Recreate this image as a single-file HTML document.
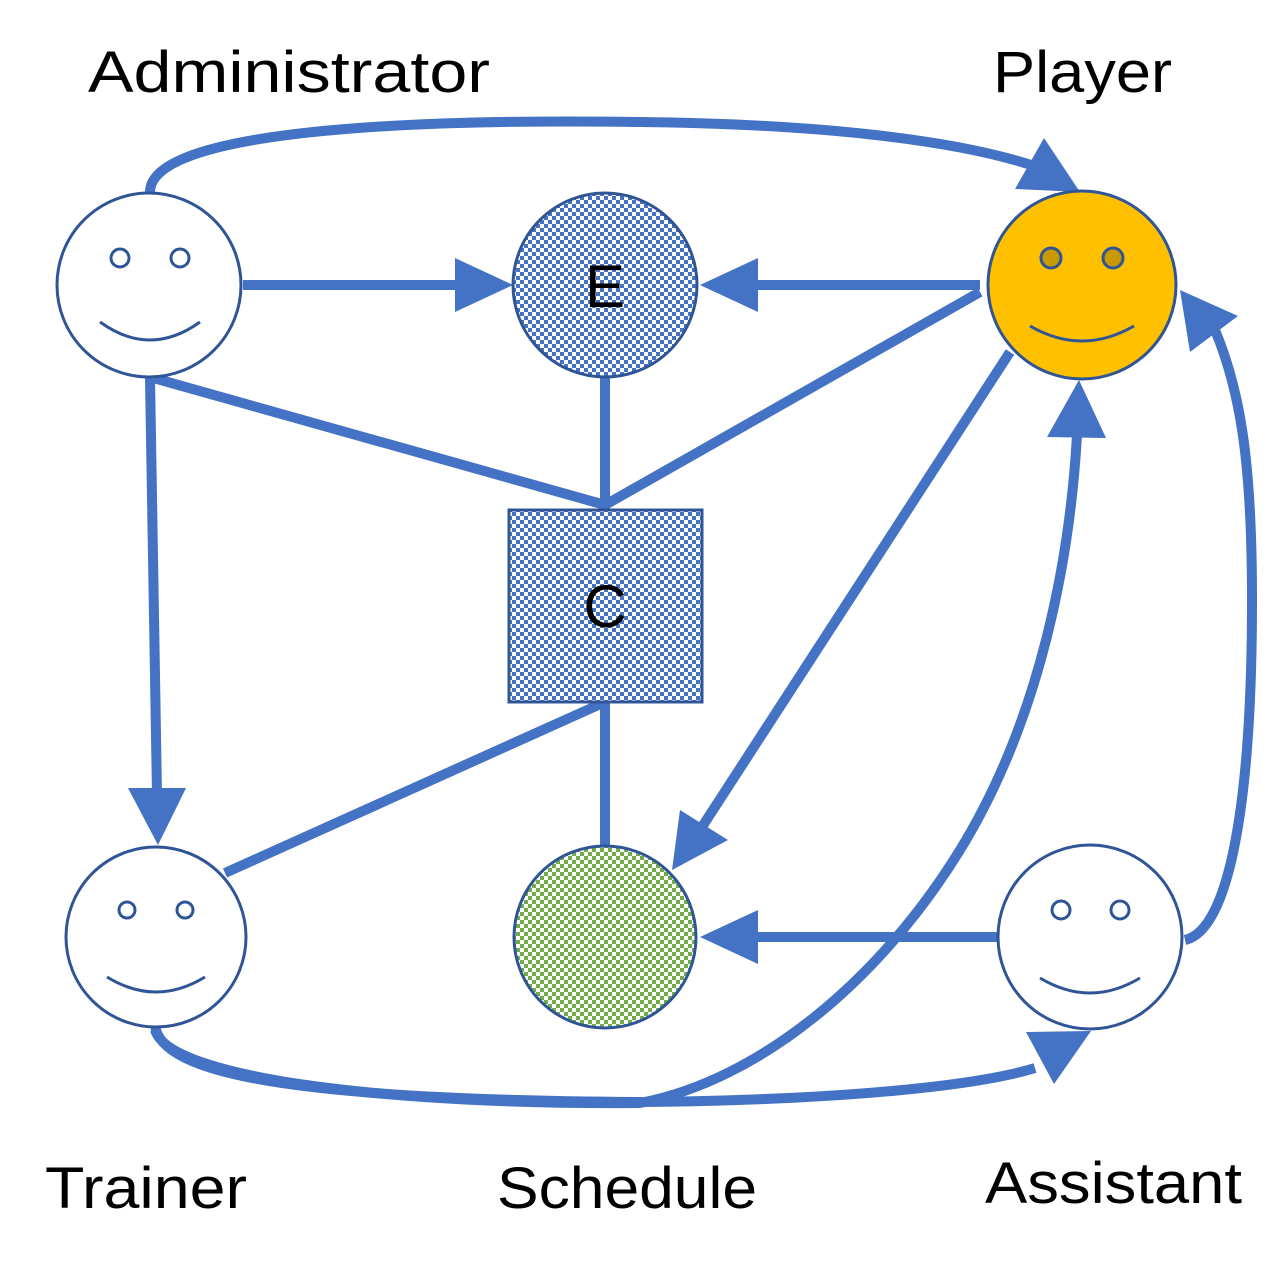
<!DOCTYPE html>
<html><head><style>html,body{margin:0;padding:0;background:#fff}svg{display:block}</style></head>
<body>
<svg width="1288" height="1276" viewBox="0 0 1288 1276" xmlns="http://www.w3.org/2000/svg">
<defs>
<pattern id="pb" width="8" height="8" patternUnits="userSpaceOnUse">
<rect width="8" height="8" fill="#fff"/><rect width="4" height="4" fill="#4472C4"/><rect x="4" y="4" width="4" height="4" fill="#4472C4"/></pattern>
<pattern id="pg" width="8" height="8" patternUnits="userSpaceOnUse">
<rect width="8" height="8" fill="#fff"/><rect width="4" height="4" fill="#70AD47"/><rect x="4" y="4" width="4" height="4" fill="#70AD47"/></pattern>
</defs>
<g stroke="#4472C4" stroke-width="10" fill="none" stroke-linecap="butt">
<path d="M150 192 C150 120 500 120 640 122 C820 124 960 140 1040 168"/>
<line x1="243" y1="285" x2="460" y2="285"/>
<line x1="980" y1="285" x2="750" y2="285"/>
<line x1="150" y1="377" x2="605" y2="505"/>
<line x1="605" y1="377" x2="605" y2="510"/>
<line x1="980" y1="292" x2="605" y2="505"/>
<line x1="150" y1="378" x2="157" y2="795"/>
<line x1="605" y1="702" x2="225" y2="873"/>
<line x1="605" y1="702" x2="605" y2="845"/>
<line x1="1010" y1="352" x2="700" y2="830"/>
<line x1="997" y1="937" x2="750" y2="937"/>
<path d="M1185 940 C1230 930 1252 800 1252 600 C1252 460 1240 390 1215 330"/>
<path d="M155 1025 C160 1075 300 1100 640 1102 C850 1100 980 1085 1035 1068"/>
<path d="M155 1030 C170 1080 400 1105 640 1103 C760 1080 880 980 960 850 C1040 720 1070 560 1077 435"/>
</g>
<g fill="#4472C4">
<polygon points="1080,192 1015,189 1044,138"/>
<polygon points="513,285 455,258 455,312"/>
<polygon points="700,285 758,258 758,312"/>
<polygon points="158,845 128,788 186,788"/>
<polygon points="672,870 680,810 728,840"/>
<polygon points="700,937 758,910 758,964"/>
<polygon points="1180,290 1190,352 1238,316"/>
<polygon points="1079,380 1047,437 1106,438"/>
<polygon points="1091,1031 1026,1032 1054,1084"/>
</g>
<g stroke="#2F5597" stroke-width="3">
<circle cx="149" cy="285" r="92" fill="#fff"/>
<circle cx="605" cy="285" r="92" fill="url(#pb)"/>
<circle cx="1082" cy="285" r="94" fill="#FFC000"/>
<rect x="509" y="510" width="193" height="192" fill="url(#pb)"/>
<circle cx="156" cy="937" r="90" fill="#fff"/>
<circle cx="605" cy="937" r="91" fill="url(#pg)"/>
<circle cx="1090" cy="937" r="92" fill="#fff"/>
<circle cx="120" cy="258" r="9" fill="#fff"/><circle cx="180" cy="258" r="9" fill="#fff"/>
<path d="M100 322 Q150 358 200 322" fill="none"/>
<circle cx="1051" cy="258" r="10" fill="#C99A00"/><circle cx="1113" cy="258" r="10" fill="#C99A00"/>
<path d="M1030 326 Q1082 356 1134 326" fill="none"/>
<circle cx="127" cy="910" r="8" fill="#fff"/><circle cx="185" cy="910" r="8" fill="#fff"/>
<path d="M107 977 Q156 1007 205 977" fill="none"/>
<circle cx="1061" cy="910" r="9" fill="#fff"/><circle cx="1120" cy="910" r="9" fill="#fff"/>
<path d="M1040 978 Q1090 1008 1140 978" fill="none"/>
</g>
<g font-family="Liberation Sans, sans-serif" font-size="58" fill="#000" lengthAdjust="spacingAndGlyphs">
<text x="88" y="92" textLength="402" lengthAdjust="spacingAndGlyphs">Administrator</text>
<text x="993" y="92" textLength="179" lengthAdjust="spacingAndGlyphs">Player</text>
<text x="45" y="1208" textLength="202" lengthAdjust="spacingAndGlyphs">Trainer</text>
<text x="497" y="1208" textLength="260" lengthAdjust="spacingAndGlyphs">Schedule</text>
<text x="985" y="1203" textLength="257" lengthAdjust="spacingAndGlyphs">Assistant</text>
<text x="605" y="307" text-anchor="middle" font-size="60">E</text>
<text x="605" y="627" text-anchor="middle" font-size="60">C</text>
</g>
</svg>
</body></html>
